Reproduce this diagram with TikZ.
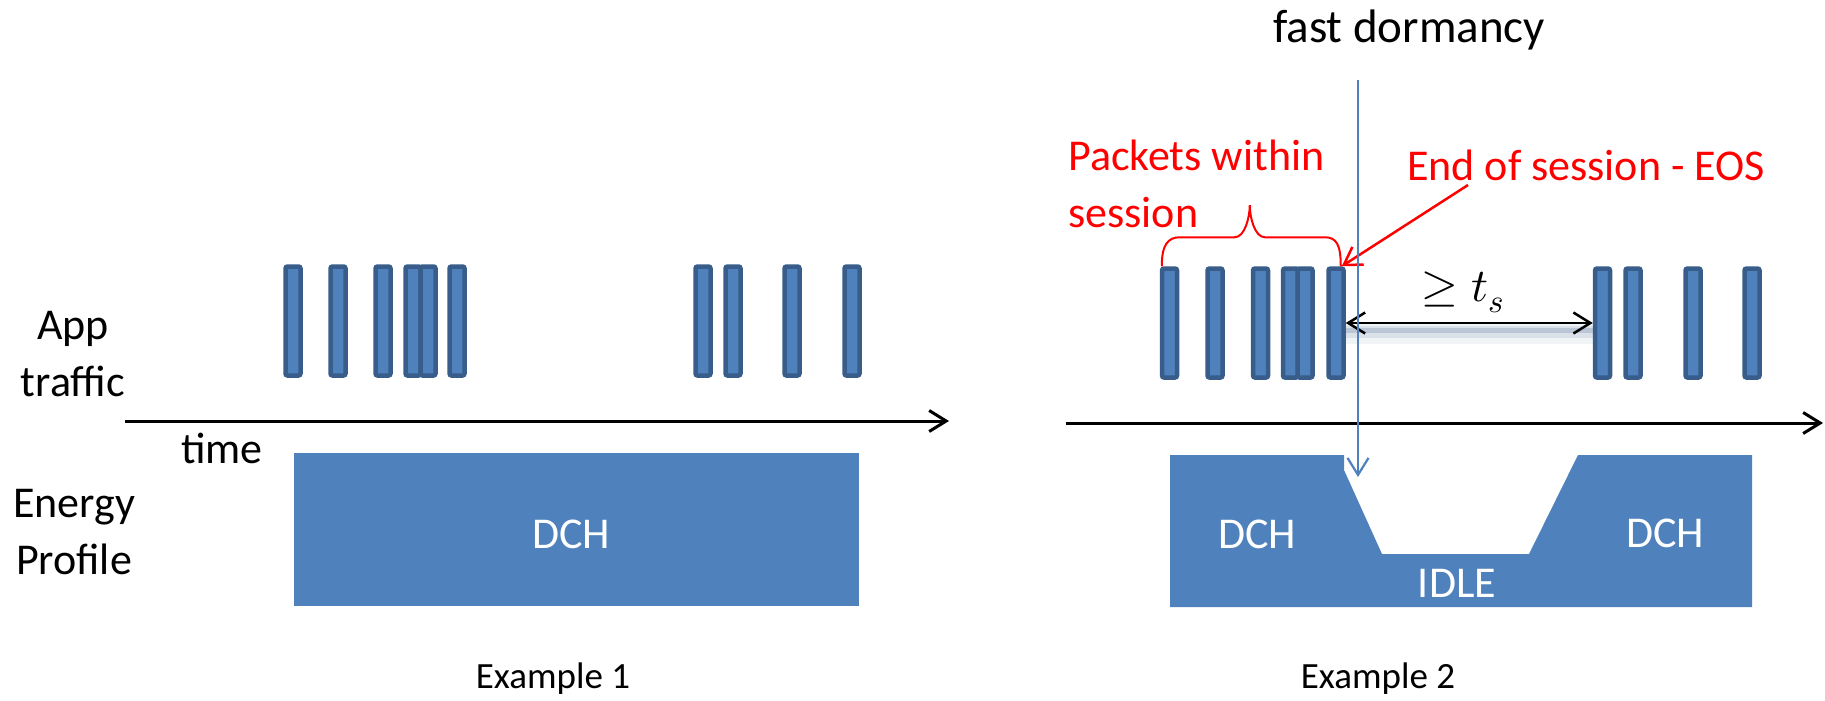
\documentclass[tikz,border=0pt]{standalone}
\usepackage{fontspec}
\usepackage{unicode-math}
\setmainfont{Carlito}
\setmathfont{Latin Modern Math}
\usetikzlibrary{arrows.meta,positioning}
\definecolor{pktblue}{HTML}{4F81BD}
\definecolor{pktedge}{HTML}{385D8A}

\begin{document}
\begin{tikzpicture}[x=1pt,y=-1pt,>={Straight Barb[length=17pt,width=21pt]},
    pkt/.style={rectangle,draw=pktedge,fill=pktblue,line width=4.5pt,rounded corners=2pt,
      minimum width=15pt,minimum height=109pt,inner sep=0pt},
    lbl/.style={font=\fontsize{44}{57}\selectfont,inner sep=0pt},
    caption/.style={font=\fontsize{37}{44}\selectfont,inner sep=0pt,anchor=base},
    statelbl/.style={lbl,text=white,anchor=base},
    note/.style={lbl,text=red},
    energy/.style={fill=pktblue},
    axis/.style={line width=3pt,->}]
  \useasboundingbox (0,0) rectangle (1825,701);
  % Example 1
  \node[pkt] (a1) at (293,321) {}; \node[pkt] (a2) at (338,321) {};
  \node[pkt] (a3) at (383,321) {}; \node[pkt] (a4) at (413,321) {};
  \node[pkt] (a5) at (428,321) {}; \node[pkt] (a6) at (457,321) {};
  \node[pkt] (a7) at (703,321) {}; \node[pkt] (a8) at (733,321) {};
  \node[pkt] (a9) at (792,321) {}; \node[pkt] (a10) at (852,321) {};
  \coordinate (t1s) at (125,421); \coordinate (t1e) at (949,421);
  \draw[axis] (t1s) -- (t1e);
  \node[lbl,align=center] (app) at (73,354) {App\\traffic};
  \node[lbl,anchor=base] (time) at (222,463) {time};
  \node[lbl,align=center] (prof) at (74,532) {Energy\\Profile};
  \fill[energy] (294,453) rectangle (859,606);
  \node[statelbl] (dch1) at (571,548) {DCH};
  \node[caption] (ex1) at (553,688) {Example 1};
  % Example 2
  \node[pkt] (b1) at (1169.5,323) {}; \node[pkt] (b2) at (1215,323) {};
  \node[pkt] (b3) at (1260.5,323) {}; \node[pkt] (b4) at (1290.5,323) {};
  \node[pkt] (b5) at (1305,323) {}; \node[pkt] (b6) at (1336,323) {};
  \node[pkt] (b7) at (1602.5,323) {}; \node[pkt] (b8) at (1633,323) {};
  \node[pkt] (b9) at (1693,323) {}; \node[pkt] (b10) at (1752,323) {};
  \coordinate (t2s) at (1066,423); \coordinate (t2e) at (1823,423);
  \draw[axis] (t2s) -- (t2e);
  \fill[energy] (1170,455) -- (1344,455) -- (1344,470) -- (1382,554) -- (1529,554)
    -- (1578,455) -- (1752,455) -- (1752,607) -- (1170,607) -- cycle;
  \node[statelbl] (dch2) at (1257,548) {DCH};
  \node[statelbl] (idle) at (1457,597) {IDLE};
  \node[statelbl] (dch3) at (1665,547) {DCH};
  \node[caption] (ex2) at (1378,688) {Example 2};
  % gap between sessions
  \draw[pktedge,line width=20pt,opacity=.07] ([yshift=-11pt]b6.east) -- ([yshift=-11pt]b7.west);
  \draw[pktedge,line width=12pt,opacity=.12] ([yshift=-9pt]b6.east) -- ([yshift=-9pt]b7.west);
  \draw[pktedge,line width=5pt,opacity=.2] ([yshift=-7pt]b6.east) -- ([yshift=-7pt]b7.west);
  \draw[<->,line width=2.5pt] (b6.east) -- (b7.west);
  \node[anchor=base,inner sep=0pt,font=\fontsize{47}{56}\selectfont] (ts) at (1463,301) {$\geq t_s$};
  % annotations
  \node[note,anchor=west,align=left] (pws) at (1068,183.5) {Packets within\\session};
  \draw[red,line width=2pt] ([xshift=2pt]b1.north west) .. controls +(0,-21) and +(-12,0) .. ++(18,-29)
    -- ++(55,0) .. controls +(10,0) and +(0,12) .. ++(15,-32)
    .. controls +(0,12) and +(-10,0) .. ++(15,32) -- ++(60,0)
    .. controls +(12,0) and +(0,-21) .. ++(16,29);
  \node[note,anchor=base west] (eos) at (1407,180) {End of session - EOS};
  \coordinate (eostail) at (1468,185);
  \draw[red,line width=2.5pt,->] (eostail) -- ([xshift=-4pt]b6.north east);
  \node[lbl,anchor=base,font=\fontsize{47}{56}\selectfont] (fd) at (1409,43) {fast dormancy};
  \coordinate (fdtop) at (1358,80); \coordinate (fdend) at (1358,477);
  \draw[pktblue,line width=2.2pt,->] (fdtop) -- (fdend);
\end{tikzpicture}
\end{document}
